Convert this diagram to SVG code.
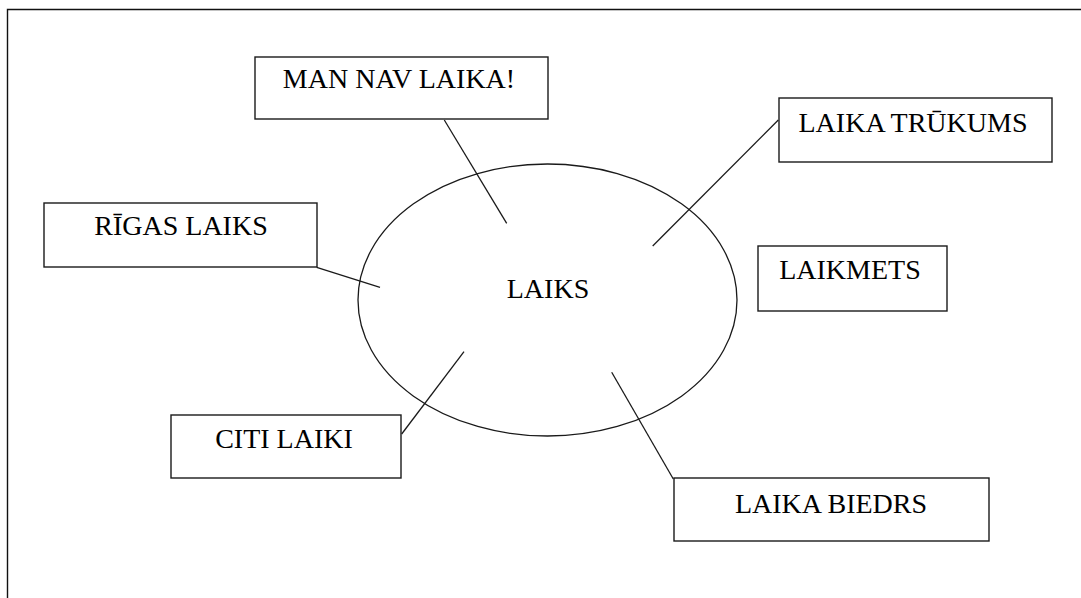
<svg xmlns="http://www.w3.org/2000/svg" width="1081" height="598" viewBox="0 0 1081 598">
<style>
.box{fill:#fff;stroke:#1a1a1a;stroke-width:1.4}
.t{font-family:"Liberation Serif","Times New Roman",serif;font-size:28px;fill:#000;text-anchor:middle}
.c{stroke:#1a1a1a;stroke-width:1.3;fill:none}
</style>
<rect width="1081" height="598" fill="#fff"/>
<path d="M7.5,598 V9.5 H1081" fill="none" stroke="#111" stroke-width="1.4"/>
<g id="center">
<ellipse cx="547.5" cy="300" rx="189.5" ry="136" fill="none" stroke="#1a1a1a" stroke-width="1.3"/>
<text class="t" x="548" y="298">LAIKS</text>
</g>
<g id="connectors">
<line class="c" x1="444.3" y1="120" x2="506.7" y2="223.3"/>
<line class="c" x1="778.3" y1="120" x2="652.7" y2="246"/>
<line class="c" x1="316.7" y1="267.3" x2="380" y2="287.3"/>
<line class="c" x1="401.7" y1="434" x2="464" y2="351.7"/>
<line class="c" x1="611.7" y1="372.3" x2="673.3" y2="479"/>
</g>
<g id="man-nav-laika">
<rect class="box" x="255" y="57" width="293" height="62"/>
<text class="t" x="399" y="88">MAN NAV LAIKA!</text>
</g>
<g id="laika-trukums">
<rect class="box" x="779" y="98" width="273" height="64"/>
<text class="t" x="913" y="132">LAIKA TRŪKUMS</text>
</g>
<g id="laikmets">
<rect class="box" x="758" y="246" width="189" height="65"/>
<text class="t" x="850" y="279">LAIKMETS</text>
</g>
<g id="rigas-laiks">
<rect class="box" x="44" y="203" width="273" height="64"/>
<text class="t" x="181" y="235">RĪGAS LAIKS</text>
</g>
<g id="citi-laiki">
<rect class="box" x="171" y="415" width="230" height="63"/>
<text class="t" x="284" y="447.5">CITI LAIKI</text>
</g>
<g id="laika-biedrs">
<rect class="box" x="674" y="478" width="315" height="63"/>
<text class="t" x="831" y="513">LAIKA BIEDRS</text>
</g>
</svg>
